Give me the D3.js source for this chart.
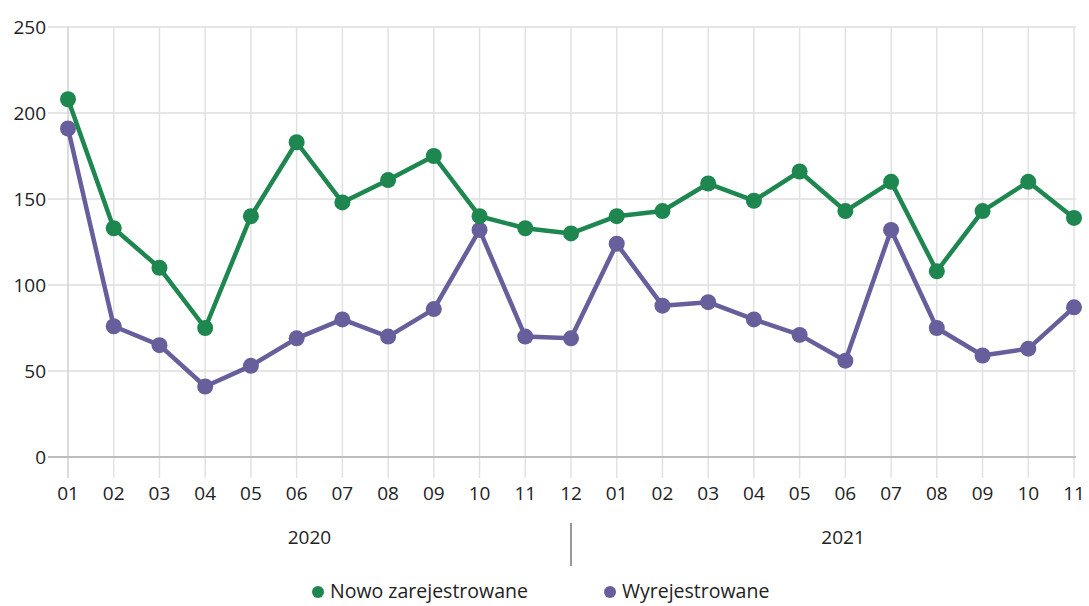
<!DOCTYPE html>
<html><head><meta charset="utf-8">
<script src="https://cdn.jsdelivr.net/npm/d3@7"></script>
<style>body{margin:0;background:#fff}svg{display:block}text{font-family:"Open Sans","Noto Sans",sans-serif;fill:#222}</style>
</head><body><svg id="c" width="1089" height="606"></svg>
<script>
const months = ["01","02","03","04","05","06","07","08","09","10","11","12","01","02","03","04","05","06","07","08","09","10","11"];
const years = [{label:"2020", pos:5.28},{label:"2021", pos:16.95}];
const newReg = [208,133,110,75,140,183,148,161,175,140,133,130,140,143,159,149,166,143,160,108,143,160,139];
const deReg = [191,76,65,41,53,69,80,70,86,132,70,69,124,88,90,80,71,56,132,75,59,63,87];
const seriesNames = ["Nowo zarejestrowane","Wyrejestrowane"];
const colors = ["#1e8750","#665f9c"];
const yTicks = [0,50,100,150,200,250];

const svg = d3.select("#c");
const x = d3.scaleLinear().domain([0, months.length-1]).range([68, 1074]);
const y = d3.scaleLinear().domain([0,250]).range([457, 27]);

svg.append("g").selectAll("line").data(yTicks.filter(d=>d>0)).join("line")
  .attr("x1",48).attr("x2",1076).attr("y1",d=>y(d)).attr("y2",d=>y(d))
  .attr("stroke","#dedede").attr("stroke-width",1.5);
svg.append("g").selectAll("line").data(months.map((m,i)=>i)).join("line")
  .attr("x1",d=>x(d)).attr("x2",d=>x(d)).attr("y1",y(250)).attr("y2",478)
  .attr("stroke",(d)=>d===0?"#d0d0d0":"#e2e2e2").attr("stroke-width",1.5);
svg.append("line").attr("x1",48).attr("x2",1076).attr("y1",y(0)).attr("y2",y(0))
  .attr("stroke","#bdbdbd").attr("stroke-width",2);

svg.append("g").selectAll("text").data(yTicks).join("text")
  .attr("x",46).attr("y",d=>y(d)).attr("dy","0.35em").attr("text-anchor","end")
  .attr("font-size",19).text(d=>d);
svg.append("g").selectAll("text").data(months).join("text")
  .attr("x",(d,i)=>x(i)).attr("y",493).attr("dy","0.35em").attr("text-anchor","middle")
  .attr("font-size",19).text(d=>d);
svg.append("g").selectAll("text").data(years).join("text")
  .attr("x",d=>x(d.pos)).attr("y",537).attr("dy","0.35em").attr("text-anchor","middle")
  .attr("font-size",19).text(d=>d.label);
svg.append("line").attr("x1",x(11)).attr("x2",x(11)).attr("y1",523).attr("y2",566)
  .attr("stroke","#999").attr("stroke-width",2);

const line = d3.line().x((d,i)=>x(i)).y(d=>y(d));
[deReg,newReg].forEach((data,k)=>{
  const c = k===0?colors[1]:colors[0];
  const g = svg.append("g");
  g.append("path").attr("d",line(data)).attr("fill","none").attr("stroke",c).attr("stroke-width",4.5).attr("stroke-linejoin","round");
  g.selectAll("circle").data(data).join("circle").attr("cx",(d,i)=>x(i)).attr("cy",d=>y(d)).attr("r",8).attr("fill",c);
});

const leg = [{x:318, tx:330},{x:610, tx:622}];
seriesNames.forEach((n,i)=>{
  svg.append("circle").attr("cx",leg[i].x).attr("cy",592).attr("r",6).attr("fill",colors[i]);
  svg.append("text").attr("x",leg[i].tx).attr("y",591).attr("dy","0.35em").attr("font-size",19.5).text(n);
});
</script></body></html>
